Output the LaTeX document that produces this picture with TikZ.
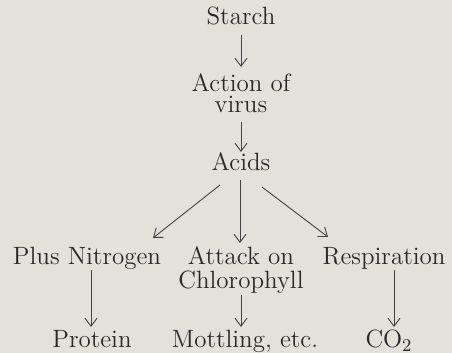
\documentclass[tikz,border=0pt]{standalone}
\usetikzlibrary{arrows.meta}
\definecolor{paper}{RGB}{228,225,219}
\definecolor{ink}{RGB}{40,40,40}
\definecolor{lineink}{RGB}{66,66,66}
\begin{document}
\begin{tikzpicture}[x=0.5pt,y=-0.5pt,
  lbl/.style={inner sep=0pt,anchor=base,text=ink,font=\fontsize{12.5}{14}\selectfont},
  arr/.style={draw=lineink,line width=0.45pt,-{Straight Barb[length=4pt,width=6pt]}}]
\fill[paper] (0,0) rectangle (452,353);
\useasboundingbox (0,0) rectangle (452,353);
\node[lbl] (starch) at (241,25) {Starch};
\node[lbl,align=center,font=\fontsize{12.5}{10.5}\selectfont] (action) at (241,112.5) {Action of\\virus};
\node[lbl] (acids) at (241,171) {Acids};
\node[lbl] (plus) at (87,265) {Plus Nitrogen};
\node[lbl,align=center,font=\fontsize{12.5}{12}\selectfont] (attack) at (241,289) {Attack on\\Chlorophyll};
\node[lbl] (resp) at (384,265) {Respiration};
\node[lbl] (protein) at (92,347.5) {Protein};
\node[lbl] (mottling) at (245,347.5) {Mottling, etc.};
\node[lbl] (co2) at (389,347.5) {CO$_2$};
\draw[arr] ([shift={(0,10)}]starch.base) -- ([shift={(0,-45.5)}]action.base);
\draw[arr] ([shift={(0,9.5)}]action.base) -- ([shift={(0,-19)}]acids.base);
\draw[arr] ([shift={(-21,14)}]acids.base) -- ([shift={(66,-27)}]plus.base);
\draw[arr] ([shift={(-1,9)}]acids.base) -- ([shift={(-1,-46)}]attack.base);
\draw[arr] ([shift={(21,16)}]acids.base) -- ([shift={(-56,-28)}]resp.base);
\draw[arr] ([shift={(4,5)}]plus.base) -- ([shift={(-1,-20.5)}]protein.base);
\draw[arr] ([shift={(0,6)}]attack.base) -- ([shift={(-4,-20.5)}]mottling.base);
\draw[arr] ([shift={(10,5)}]resp.base) -- ([shift={(5,-20.5)}]co2.base);
\end{tikzpicture}
\end{document}
